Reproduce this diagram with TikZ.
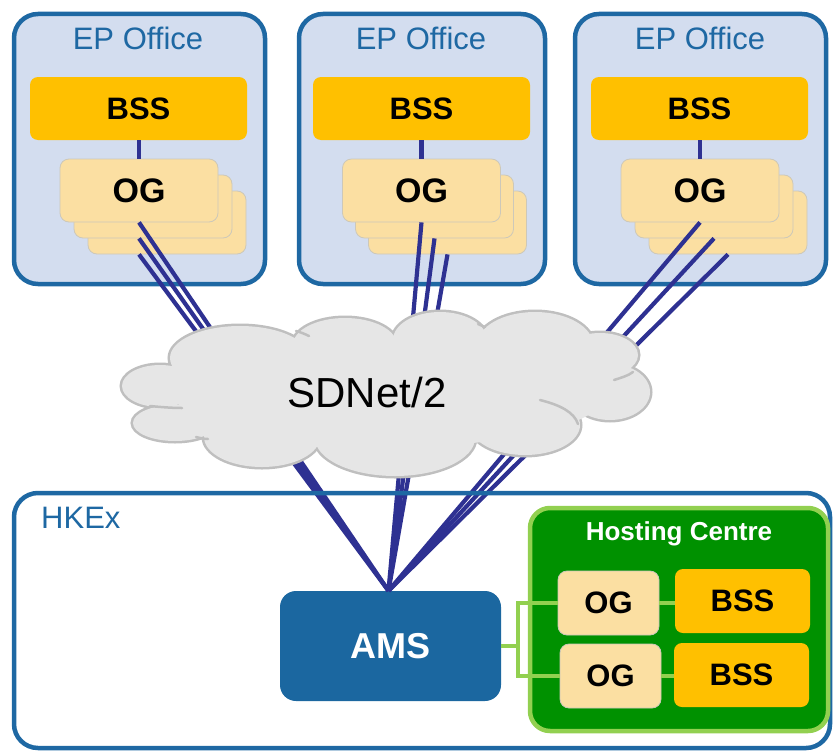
\documentclass[tikz,border=0pt]{standalone}
\usepackage{fontspec}
\setmainfont{Liberation Sans}
\usetikzlibrary{calc}
\definecolor{epfill}{RGB}{211,221,239}
\definecolor{epblue}{RGB}{30,104,163}
\definecolor{amsblue}{RGB}{27,103,160}
\definecolor{bssor}{RGB}{255,192,0}
\definecolor{ogfill}{RGB}{251,223,162}
\definecolor{ogline}{RGB}{205,200,185}
\definecolor{navy}{RGB}{46,49,146}
\definecolor{cloudfill}{RGB}{230,230,230}
\definecolor{cloudline}{RGB}{191,191,191}
\definecolor{hostfill}{RGB}{0,145,0}
\definecolor{hostline}{RGB}{146,208,80}
\tikzset{
  epbox/.style={draw=epblue, line width=4.5pt, fill=epfill, rounded corners=24pt, minimum height=270pt},
  bssbox/.style={fill=bssor, rounded corners=8pt, minimum height=63pt, font=\bfseries\fontsize{31}{37}\selectfont, inner sep=0pt},
  ogbox/.style={draw=ogline, line width=0.8pt, fill=ogfill, rounded corners=9pt, minimum width=158pt, minimum height=63pt, font=\bfseries\fontsize{34}{41}\selectfont, inner sep=0pt},
  hogbox/.style={draw=ogline, line width=0.8pt, fill=ogfill, rounded corners=9pt, minimum width=101pt, minimum height=64pt, font=\bfseries\fontsize{31}{37}\selectfont, inner sep=0pt},
  link/.style={draw=navy, line width=4.2pt},
  glink/.style={draw=hostline, line width=4pt},
  eptitle/.style={text=epblue, font=\fontsize{31}{37}\selectfont, anchor=base, inner sep=0pt},
  lobe/.style={draw=cloudline, line width=5pt, fill=cloudfill},
  lobefill/.style={fill=cloudfill},
  cloudarc/.style={draw=cloudline, line width=2.5pt, line cap=round},
}
\begin{document}
\begin{tikzpicture}[x=1pt,y=-1pt]
\useasboundingbox (0,0) rectangle (834,752);
% EP office boxes
\node[epbox, minimum width=251pt] (ep1) at (139.5,149) {};
\node[epbox, minimum width=246pt] (ep2) at (422,149) {};
\node[epbox, minimum width=251pt] (ep3) at (700.5,149) {};
\node[eptitle] (t1) at (138,49) {EP Office};
\node[eptitle] (t2) at (421,49) {EP Office};
\node[eptitle] (t3) at (700,49) {EP Office};
% BSS in EP offices
\node[bssbox, minimum width=217pt] (bss1) at (138.5,108.5) {BSS};
\node[bssbox, minimum width=217pt] (bss2) at (421.5,108.5) {BSS};
\node[bssbox, minimum width=217pt] (bss3) at (699.5,108.5) {BSS};
% OG stacks
\node[ogbox] (og1c) at (167,222.5) {};
\node[ogbox] (og1b) at (153,206.5) {};
\node[ogbox] (og1a) at (139,190.5) {OG};
\node[ogbox] (og2c) at (447.5,222.5) {};
\node[ogbox] (og2b) at (434.5,206.5) {};
\node[ogbox] (og2a) at (421.5,190.5) {OG};
\node[ogbox] (og3c) at (728,222.5) {};
\node[ogbox] (og3b) at (714,206.5) {};
\node[ogbox] (og3a) at (700,190.5) {OG};
\draw[link] (bss1.south -| og1a.north) -- (og1a.north);
\draw[link] (bss2.south -| og2a.north) -- (og2a.north);
\draw[link] (bss3.south -| og3a.north) -- (og3a.north);
% AMS
\node[fill=amsblue, rounded corners=16pt, minimum width=221pt, minimum height=110pt,
      text=white, font=\bfseries\fontsize{36}{43}\selectfont, inner sep=0pt] (ams) at (390.5,646) {AMS};
\coordinate (hub) at ($(ams.north)+(-2,0)$);
% links
\draw[link] (og1a.south) -- (hub);
\draw[link] (og1a.south |- og1b.south) -- (hub);
\draw[link] (og1a.south |- og1c.south) -- (hub);
\draw[link] (og2a.south) -- (hub);
\draw[link] (og2b.south) -- (hub);
\draw[link] (og2c.south) -- (hub);
\draw[link] (og3a.south) -- (hub);
\draw[link] (og3b.south) -- (hub);
\draw[link] (og3c.south) -- (hub);
% HKEx
\node[draw=epblue, line width=4.5pt, rounded corners=24pt, minimum width=816pt, minimum height=255pt] (hkex) at (422,620.5) {};
\node[text=epblue, font=\fontsize{31}{37}\selectfont, anchor=base west, inner sep=0pt] (hk) at (41,528) {HKEx};
% cloud
\foreach \cx/\cy/\rx/\ry in {240/358/70/32, 345/345/52/27, 440/340/47/28, 535/345/58/33, 600/355/38/22, 610/392/40/28, 525/425/55/30, 395/438/80/38, 262/437/58/30, 175/423/42/18, 160/386/38/21}{
  \path[lobe] (\cx,\cy) ellipse [x radius=\rx pt, y radius=\ry pt];
}
\foreach \cx/\cy/\rx/\ry in {240/358/70/32, 345/345/52/27, 440/340/47/28, 535/345/58/33, 600/355/38/22, 610/392/40/28, 525/425/55/30, 395/438/80/38, 262/437/58/30, 175/423/42/18, 160/386/38/21}{
  \path[lobefill] (\cx,\cy) ellipse [x radius=\rx pt, y radius=\ry pt];
}
\path[lobefill] (390,395) ellipse [x radius=215pt, y radius=52pt];
\draw[cloudarc] (540,400) .. controls (560,405) and (574,412) .. (578,424);
\draw[cloudarc] (614,380) .. controls (620,378) and (628,376) .. (633,372);
\draw[cloudarc] (150,406) .. controls (160,407) and (172,408) .. (182,408);
\draw[cloudarc] (196,437) .. controls (200,438) and (204,439) .. (208,439);
\draw[cloudarc] (296,331) .. controls (300,332) and (305,334) .. (309,336);
\draw[cloudarc] (478,324) .. controls (480,325) and (483,326) .. (485,327);
\node[font=\fontsize{42}{50}\selectfont, anchor=base, inner sep=0pt] (sd) at (367,407) {SDNet/2};
% Hosting centre
\node[draw=hostline, line width=4.5pt, fill=hostfill, rounded corners=20pt, minimum width=298pt, minimum height=223pt] (host) at (679,619.5) {};
\node[text=white, font=\bfseries\fontsize{26}{31}\selectfont, anchor=base, inner sep=0pt] (ht) at (679,540) {Hosting Centre};
\node[hogbox] (hog1) at (608.5,603) {OG};
\node[hogbox] (hog2) at (610.5,676) {OG};
\node[bssbox, minimum width=135pt, minimum height=64pt] (hbss1) at (742.5,601) {BSS};
\node[bssbox, minimum width=135pt, minimum height=64pt] (hbss2) at (741.5,675) {BSS};
\draw[glink] (hog1.east) -- (hog1.east -| hbss1.west);
\draw[glink] (hog2.east) -- (hog2.east -| hbss2.west);
\coordinate (jn) at ($(ams.east)+(17,0)$);
\draw[glink] (ams.east) -- (jn) |- (hog1.west);
\draw[glink] (jn) |- (hog2.west);
\end{tikzpicture}
\end{document}
